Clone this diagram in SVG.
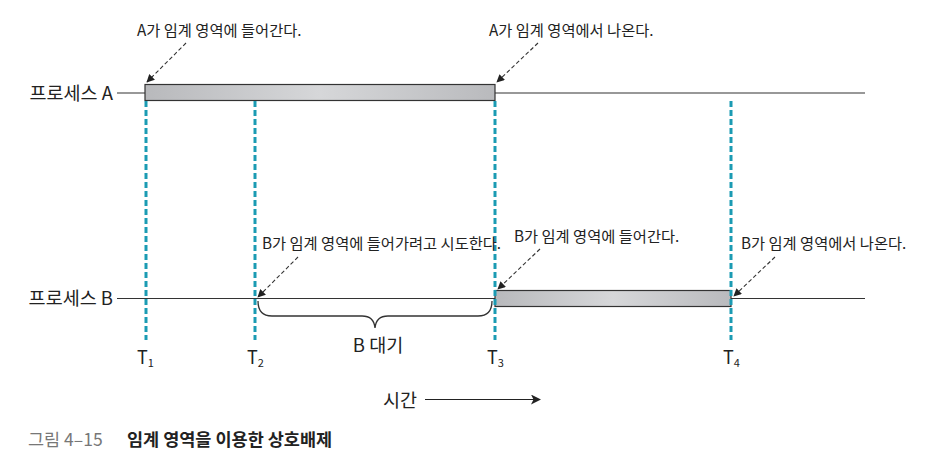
<svg xmlns="http://www.w3.org/2000/svg" width="928" height="463" viewBox="0 0 928 463">
<style>
text{font-family:"Noto Sans CJK KR","Liberation Sans",sans-serif;fill:#222}
.lbl{font-size:18.5px}
.ann{font-size:15.3px}
.tl{font-size:18px}
.sub{font-size:11px}
.axis{stroke:#333;stroke-width:1.2;fill:none}
.tick{stroke:#1b9bb3;stroke-width:3;stroke-dasharray:6 3;fill:none}
.bar{fill:url(#g);stroke:#333;stroke-width:1.2}
.da{stroke:#333;stroke-width:1.1;stroke-dasharray:4 2.5;fill:none;marker-end:url(#ah)}
</style>
<defs>
<linearGradient id="g" x1="0" y1="0" x2="1" y2="0">
<stop offset="0" stop-color="#b8b9bc"/>
<stop offset="0.5" stop-color="#d6d7d9"/>
<stop offset="1" stop-color="#b9babd"/>
</linearGradient>
<marker id="ah" viewBox="0 0 10 10" refX="9" refY="5" markerWidth="8" markerHeight="8" markerUnits="userSpaceOnUse" orient="auto">
<path d="M0,0 L10,5 L0,10 z" fill="#222"/>
</marker>
<marker id="ah2" viewBox="0 0 10 10" refX="9" refY="5" markerWidth="12" markerHeight="10" markerUnits="userSpaceOnUse" orient="auto">
<path d="M0,0 L10,5 L0,10 L2.5,5 z" fill="#222"/>
</marker>
</defs>
<g id="processA">
<text class="lbl" x="113" y="100" text-anchor="end">프로세스 A</text>
<line class="axis" x1="117" y1="93" x2="865" y2="93"/>
<rect class="bar" x="145" y="84.5" width="350" height="16"/>
</g>
<g id="processB">
<text class="lbl" x="113" y="305" text-anchor="end">프로세스 B</text>
<line class="axis" x1="117" y1="298.5" x2="865" y2="298.5"/>
<rect class="bar" x="495" y="290.5" width="236" height="16"/>
</g>
<g id="times">
<line class="tick" x1="146" y1="101" x2="146" y2="340"/>
<line class="tick" x1="255" y1="101" x2="255" y2="340"/>
<line class="tick" x1="495" y1="101" x2="495" y2="340"/>
<line class="tick" x1="731" y1="101" x2="731" y2="340"/>
<text class="tl" x="137" y="364">T<tspan class="sub" dy="3">1</tspan></text>
<text class="tl" x="247" y="364">T<tspan class="sub" dy="3">2</tspan></text>
<text class="tl" x="487" y="364">T<tspan class="sub" dy="3">3</tspan></text>
<text class="tl" x="723" y="364">T<tspan class="sub" dy="3">4</tspan></text>
</g>
<g id="wait">
<path d="M258,301 Q258,316 272,316 L362,316 Q374,316 375,328 Q376,316 388,316 L478,316 Q492,316 492,301" fill="none" stroke="#333" stroke-width="1.3"/>
<text x="378" y="352" font-size="18.5" text-anchor="middle">B 대기</text>
</g>
<g id="annotations">
<text class="ann" x="137" y="36">A가 임계 영역에 들어간다.</text>
<text class="ann" x="489" y="36">A가 임계 영역에서 나온다.</text>
<text class="ann" x="262" y="249">B가 임계 영역에 들어가려고 시도한다.</text>
<text class="ann" x="514" y="242">B가 임계 영역에 들어간다.</text>
<text class="ann" x="741" y="249">B가 임계 영역에서 나온다.</text>
</g>
<g id="connectors">
<line class="da" x1="186" y1="43" x2="147" y2="82"/>
<line class="da" x1="538" y1="43" x2="497" y2="82"/>
<line class="da" x1="298" y1="257" x2="258" y2="297"/>
<line class="da" x1="540" y1="249" x2="498" y2="289"/>
<line class="da" x1="775" y1="257" x2="734" y2="296"/>
</g>
<g id="time">
<text x="383" y="407" font-size="18.5">시간</text>
<line x1="425" y1="399.5" x2="540" y2="399.5" stroke="#222" stroke-width="1.2" marker-end="url(#ah2)"/>
</g>
<g id="caption">
<text x="28" y="446" font-size="17.5"><tspan style="fill:#777">그림 4–15</tspan><tspan x="127" font-weight="bold" style="fill:#222">임계 영역을 이용한 상호배제</tspan></text>
</g>
</svg>
